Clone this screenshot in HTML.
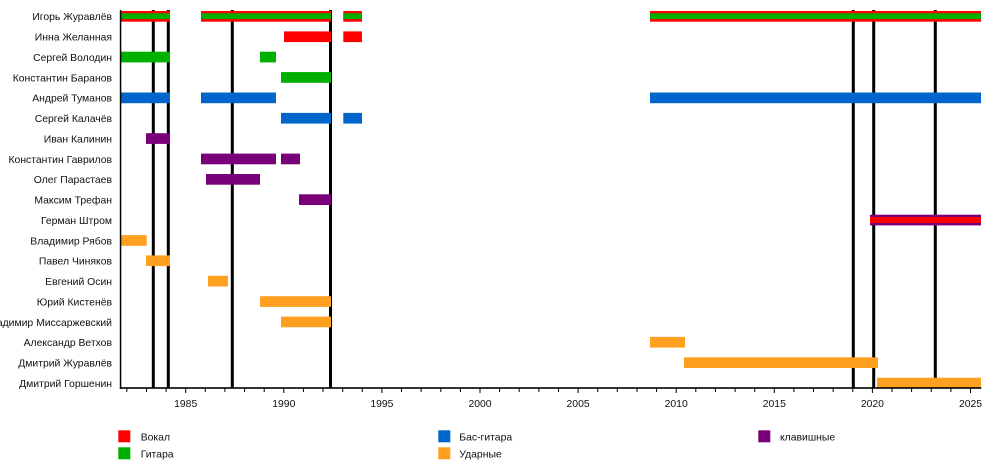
<!DOCTYPE html>
<html><head><meta charset="utf-8"><style>
html,body{margin:0;padding:0;background:#fff;}
svg{display:block;}
text{font-family:"Liberation Sans","DejaVu Sans",sans-serif;font-size:10.4px;fill:#111;}
</style></head><body>
<svg width="1000" height="468" viewBox="0 0 1000 468" xmlns="http://www.w3.org/2000/svg">
<g fill="#000">
<rect x="151.8" y="10" width="3" height="378"/>
<rect x="166.8" y="10" width="3" height="378"/>
<rect x="230.8" y="10" width="3" height="378"/>
<rect x="329" y="10" width="3" height="378"/>
<rect x="851.8" y="10" width="3" height="378"/>
<rect x="872.2" y="10" width="3" height="378"/>
<rect x="933.8" y="10" width="3" height="378"/>
</g>
<g>
<rect x="120.7" y="11" width="49.3" height="10.7" fill="#ff0000"/>
<rect x="120.7" y="13.3" width="49.3" height="5.8" fill="#00b000"/>
<rect x="201" y="11" width="130" height="10.7" fill="#ff0000"/>
<rect x="201" y="13.3" width="130" height="5.8" fill="#00b000"/>
<rect x="343.3" y="11" width="18.7" height="10.7" fill="#ff0000"/>
<rect x="343.3" y="13.3" width="18.7" height="5.8" fill="#00b000"/>
<rect x="650" y="11" width="331" height="10.7" fill="#ff0000"/>
<rect x="650" y="13.3" width="331" height="5.8" fill="#00b000"/>
<rect x="284" y="31.4" width="47" height="10.7" fill="#ff0000"/>
<rect x="343.3" y="31.4" width="18.7" height="10.7" fill="#ff0000"/>
<rect x="120.7" y="51.7" width="49.3" height="10.7" fill="#00b000"/>
<rect x="260" y="51.7" width="16" height="10.7" fill="#00b000"/>
<rect x="281" y="72.1" width="50" height="10.7" fill="#00b000"/>
<rect x="120.7" y="92.5" width="49.3" height="10.7" fill="#0066cc"/>
<rect x="201" y="92.5" width="75" height="10.7" fill="#0066cc"/>
<rect x="650" y="92.5" width="331" height="10.7" fill="#0066cc"/>
<rect x="281" y="112.9" width="50" height="10.7" fill="#0066cc"/>
<rect x="343.3" y="112.9" width="18.7" height="10.7" fill="#0066cc"/>
<rect x="146" y="133.2" width="24" height="10.7" fill="#7a007a"/>
<rect x="201" y="153.6" width="75" height="10.7" fill="#7a007a"/>
<rect x="281" y="153.6" width="19" height="10.7" fill="#7a007a"/>
<rect x="206" y="174" width="54" height="10.7" fill="#7a007a"/>
<rect x="299" y="194.3" width="32" height="10.7" fill="#7a007a"/>
<rect x="870" y="214.7" width="111" height="10.7" fill="#7a007a"/>
<rect x="870" y="217" width="111" height="6" fill="#ff0000"/>
<rect x="120.7" y="235.1" width="26" height="10.7" fill="#ffa020"/>
<rect x="146" y="255.4" width="24" height="10.7" fill="#ffa020"/>
<rect x="208" y="275.8" width="20" height="10.7" fill="#ffa020"/>
<rect x="260" y="296.2" width="71" height="10.7" fill="#ffa020"/>
<rect x="281" y="316.6" width="50" height="10.7" fill="#ffa020"/>
<rect x="650" y="336.9" width="35" height="10.7" fill="#ffa020"/>
<rect x="684" y="357.3" width="194" height="10.7" fill="#ffa020"/>
<rect x="877" y="377.7" width="104" height="10.7" fill="#ffa020"/>
</g>
<rect x="119.8" y="10" width="1.5" height="379" fill="#000"/>
<rect x="119.8" y="387.2" width="861.5" height="1.6" fill="#000"/>
<g stroke="#000" stroke-width="1">
<line x1="126.8" y1="388" x2="126.8" y2="392"/>
<line x1="146.5" y1="388" x2="146.5" y2="392"/>
<line x1="166.1" y1="388" x2="166.1" y2="392"/>
<line x1="185.7" y1="388" x2="185.7" y2="393"/>
<line x1="205.3" y1="388" x2="205.3" y2="392"/>
<line x1="224.9" y1="388" x2="224.9" y2="392"/>
<line x1="244.6" y1="388" x2="244.6" y2="392"/>
<line x1="264.2" y1="388" x2="264.2" y2="392"/>
<line x1="283.8" y1="388" x2="283.8" y2="393"/>
<line x1="303.4" y1="388" x2="303.4" y2="392"/>
<line x1="323.0" y1="388" x2="323.0" y2="392"/>
<line x1="342.7" y1="388" x2="342.7" y2="392"/>
<line x1="362.3" y1="388" x2="362.3" y2="392"/>
<line x1="381.9" y1="388" x2="381.9" y2="393"/>
<line x1="401.5" y1="388" x2="401.5" y2="392"/>
<line x1="421.1" y1="388" x2="421.1" y2="392"/>
<line x1="440.8" y1="388" x2="440.8" y2="392"/>
<line x1="460.4" y1="388" x2="460.4" y2="392"/>
<line x1="480.0" y1="388" x2="480.0" y2="393"/>
<line x1="499.6" y1="388" x2="499.6" y2="392"/>
<line x1="519.2" y1="388" x2="519.2" y2="392"/>
<line x1="538.9" y1="388" x2="538.9" y2="392"/>
<line x1="558.5" y1="388" x2="558.5" y2="392"/>
<line x1="578.1" y1="388" x2="578.1" y2="393"/>
<line x1="597.7" y1="388" x2="597.7" y2="392"/>
<line x1="617.3" y1="388" x2="617.3" y2="392"/>
<line x1="637.0" y1="388" x2="637.0" y2="392"/>
<line x1="656.6" y1="388" x2="656.6" y2="392"/>
<line x1="676.2" y1="388" x2="676.2" y2="393"/>
<line x1="695.8" y1="388" x2="695.8" y2="392"/>
<line x1="715.4" y1="388" x2="715.4" y2="392"/>
<line x1="735.1" y1="388" x2="735.1" y2="392"/>
<line x1="754.7" y1="388" x2="754.7" y2="392"/>
<line x1="774.3" y1="388" x2="774.3" y2="393"/>
<line x1="793.9" y1="388" x2="793.9" y2="392"/>
<line x1="813.5" y1="388" x2="813.5" y2="392"/>
<line x1="833.2" y1="388" x2="833.2" y2="392"/>
<line x1="852.8" y1="388" x2="852.8" y2="392"/>
<line x1="872.4" y1="388" x2="872.4" y2="393"/>
<line x1="892.0" y1="388" x2="892.0" y2="392"/>
<line x1="911.6" y1="388" x2="911.6" y2="392"/>
<line x1="931.3" y1="388" x2="931.3" y2="392"/>
<line x1="950.9" y1="388" x2="950.9" y2="392"/>
<line x1="970.5" y1="388" x2="970.5" y2="393"/>
</g>
<g text-anchor="middle">
<text x="185.7" y="407">1985</text>
<text x="283.8" y="407">1990</text>
<text x="381.9" y="407">1995</text>
<text x="480" y="407">2000</text>
<text x="578.1" y="407">2005</text>
<text x="676.2" y="407">2010</text>
<text x="774.3" y="407">2015</text>
<text x="872.4" y="407">2020</text>
<text x="970.5" y="407">2025</text>
</g>
<g text-anchor="end">
<text x="112" y="20.2">Игорь Журавлёв</text>
<text x="112" y="40.6">Инна Желанная</text>
<text x="112" y="60.9">Сергей Володин</text>
<text x="112" y="81.3">Константин Баранов</text>
<text x="112" y="101.7">Андрей Туманов</text>
<text x="112" y="122.1">Сергей Калачёв</text>
<text x="112" y="142.4">Иван Калинин</text>
<text x="112" y="162.8">Константин Гаврилов</text>
<text x="112" y="183.2">Олег Парастаев</text>
<text x="112" y="203.5">Максим Трефан</text>
<text x="112" y="223.9">Герман Штром</text>
<text x="112" y="244.3">Владимир Рябов</text>
<text x="112" y="264.6">Павел Чиняков</text>
<text x="112" y="285">Евгений Осин</text>
<text x="112" y="305.4">Юрий Кистенёв</text>
<text x="112" y="325.8">Владимир Миссаржевский</text>
<text x="112" y="346.1">Александр Ветхов</text>
<text x="112" y="366.5">Дмитрий Журавлёв</text>
<text x="112" y="386.9">Дмитрий Горшенин</text>
</g>
<rect x="118.3" y="430.3" width="12" height="12" fill="#ff0000"/>
<text x="140.7" y="440.5">Вокал</text>
<rect x="118.3" y="447.3" width="12" height="12" fill="#00b000"/>
<text x="140.7" y="457.5">Гитара</text>
<rect x="438.3" y="430.3" width="12" height="12" fill="#0066cc"/>
<text x="459.3" y="440.5">Бас-гитара</text>
<rect x="438.3" y="447.3" width="12" height="12" fill="#ffa020"/>
<text x="459.3" y="457.5">Ударные</text>
<rect x="758.3" y="430.3" width="12" height="12" fill="#7a007a"/>
<text x="780" y="440.5">клавишные</text>
</svg>
</body></html>
